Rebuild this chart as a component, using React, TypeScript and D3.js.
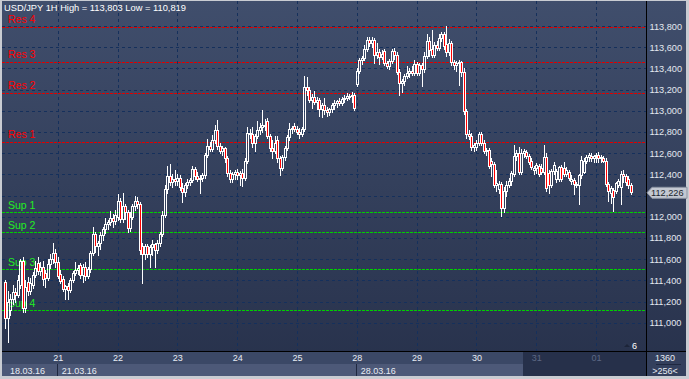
import React, { useEffect } from "react";
import * as d3 from "d3";

// ---------- DATA ----------
const opens = [
  111.38,111.04,111.12,111.22,111.29,111.26,111.36,111.58,111.14,111.38,111.30,111.36,111.45,111.56,111.49,111.53,111.47,111.42,111.55,111.60,111.66,
  111.57,111.46,111.41,111.32,111.35,111.31,111.40,111.47,111.50,111.54,111.45,111.53,111.44,111.51,111.66,111.84,111.72,111.75,111.83,111.88,111.93,111.95,111.99,111.96,
  112.00,112.15,111.98,112.10,112.04,111.89,112.00,112.10,112.15,112.12,111.72,111.65,111.72,111.65,111.71,111.74,111.69,111.75,111.84,112.02,112.26,112.38,112.33,112.36,
  112.34,112.37,112.27,112.23,112.30,112.33,112.35,112.45,112.38,112.36,112.37,112.39,112.58,112.67,112.64,112.72,112.82,112.67,112.62,112.65,112.55,112.41,112.36,112.40,
  112.42,112.39,112.41,112.37,112.53,112.79,112.78,112.70,112.76,112.82,112.85,112.87,112.90,112.76,112.65,112.62,112.72,112.55,112.46,112.56,112.65,112.75,112.83,112.86,
  112.83,112.80,112.78,112.83,113.22,113.20,113.10,113.13,113.08,113.10,113.02,113.05,113.01,112.99,113.02,113.05,113.07,113.09,113.07,113.11,113.12,113.14,113.14,113.15,
  113.25,113.38,113.48,113.50,113.58,113.67,113.64,113.67,113.53,113.55,113.51,113.56,113.45,113.42,113.47,113.56,113.53,113.37,113.26,113.28,113.33,113.36,113.38,113.36,
  113.44,113.36,113.43,113.39,113.52,113.66,113.58,113.53,113.62,113.59,113.69,113.72,113.63,113.55,113.64,113.46,113.43,113.45,113.46,113.37,113.00,112.78,112.76,112.66,
  112.66,112.70,112.78,112.70,112.62,112.63,112.53,112.50,112.30,112.26,112.31,112.08,112.24,112.30,112.34,112.40,112.57,112.60,112.42,112.60,112.61,112.57,112.53,112.44,
  112.46,112.48,112.46,112.42,112.56,112.41,112.30,112.43,112.36,112.36,112.47,112.46,112.40,112.42,112.34,112.35,112.31,112.30,112.39,112.42,112.53,112.56,112.57,112.55,
  112.57,112.58,112.55,112.55,112.53,112.31,112.22,112.25,112.24,112.30,112.28,112.40,112.38,112.36,112.30
];
const highs = [
  111.40,111.30,111.27,111.36,111.33,111.45,111.60,111.62,111.40,111.43,111.42,111.48,111.58,111.62,111.57,111.58,111.50,111.60,111.65,111.75,111.70,
  111.62,111.50,111.44,111.36,111.37,111.42,111.49,111.57,111.54,111.56,111.55,111.57,111.53,111.68,111.90,111.86,111.77,111.86,111.90,111.99,111.97,112.05,112.03,112.06,
  112.21,112.18,112.22,112.12,112.06,112.04,112.12,112.20,112.19,112.14,111.75,111.74,111.74,111.73,111.78,111.75,111.78,111.86,112.05,112.30,112.48,112.50,112.40,112.44,
  112.40,112.39,112.32,112.32,112.36,112.37,112.48,112.47,112.42,112.39,112.41,112.60,112.73,112.71,112.77,112.87,112.91,112.70,112.67,112.66,112.57,112.44,112.42,112.44,
  112.45,112.43,112.45,112.55,112.85,112.83,112.85,112.78,112.90,112.88,113.01,112.92,112.93,112.78,112.72,112.76,112.76,112.57,112.58,112.67,112.77,112.88,112.86,112.88,
  112.86,112.84,112.85,113.33,113.32,113.22,113.16,113.19,113.13,113.12,113.07,113.12,113.04,113.03,113.07,113.10,113.10,113.12,113.13,113.15,113.17,113.16,113.18,113.17,
  113.40,113.50,113.52,113.62,113.70,113.70,113.70,113.69,113.64,113.58,113.57,113.58,113.47,113.49,113.58,113.59,113.55,113.39,113.30,113.35,113.42,113.40,113.42,113.48,
  113.46,113.45,113.45,113.55,113.72,113.70,113.76,113.65,113.66,113.72,113.74,113.74,113.803,113.68,113.66,113.48,113.47,113.48,113.47,113.40,113.02,112.82,112.79,112.70,
  112.72,112.80,112.80,112.72,112.65,112.65,112.55,112.52,112.44,112.34,112.33,112.28,112.34,112.37,112.43,112.68,112.63,112.66,112.64,112.64,112.63,112.59,112.55,112.48,
  112.51,112.50,112.50,112.68,112.60,112.44,112.45,112.52,112.45,112.48,112.49,112.52,112.47,112.44,112.39,112.37,112.33,112.40,112.57,112.55,112.58,112.60,112.60,112.58,
  112.60,112.61,112.58,112.57,112.55,112.33,112.29,112.27,112.33,112.36,112.43,112.44,112.40,112.38,112.32
];
const lows = [
  110.95,110.82,111.07,111.18,111.20,111.24,111.33,111.10,111.10,111.26,111.27,111.33,111.43,111.46,111.45,111.36,111.34,111.40,111.52,111.56,111.53,
  111.42,111.37,111.30,111.22,111.22,111.29,111.38,111.45,111.46,111.42,111.38,111.40,111.42,111.48,111.64,111.67,111.64,111.70,111.78,111.85,111.88,111.92,111.90,111.93,
  111.97,111.95,111.95,111.98,111.86,111.87,111.98,112.06,112.08,111.65,111.37,111.60,111.62,111.53,111.64,111.53,111.66,111.72,111.82,112.00,112.22,112.30,112.28,112.30,
  112.30,112.25,112.14,112.20,112.27,112.30,112.33,112.36,112.34,112.22,112.34,112.37,112.56,112.62,112.62,112.70,112.64,112.60,112.58,112.52,112.38,112.33,112.33,112.36,
  112.36,112.30,112.29,112.35,112.51,112.74,112.66,112.62,112.74,112.78,112.80,112.82,112.74,112.62,112.55,112.60,112.52,112.39,112.44,112.54,112.63,112.72,112.79,112.81,
  112.78,112.74,112.76,112.81,113.15,113.08,113.03,113.06,113.02,112.95,112.94,112.97,112.95,112.96,112.99,113.02,113.04,113.05,113.05,113.08,113.10,113.11,113.08,113.01,
  113.23,113.36,113.44,113.48,113.56,113.61,113.60,113.45,113.50,113.44,113.49,113.43,113.40,113.39,113.45,113.49,113.35,113.15,113.18,113.24,113.31,113.32,113.34,113.34,
  113.34,113.34,113.23,113.37,113.50,113.52,113.51,113.51,113.57,113.57,113.66,113.58,113.52,113.53,113.43,113.39,113.38,113.24,113.33,112.97,112.74,112.73,112.63,112.62,
  112.63,112.68,112.68,112.60,112.58,112.46,112.38,112.28,112.24,112.22,112.01,112.04,112.20,112.28,112.30,112.38,112.54,112.40,112.40,112.56,112.55,112.50,112.45,112.40,
  112.41,112.38,112.40,112.40,112.24,112.22,112.28,112.40,112.33,112.34,112.34,112.38,112.38,112.35,112.31,112.21,112.28,112.12,112.37,112.41,112.51,112.53,112.53,112.52,
  112.52,112.52,112.52,112.52,112.29,112.15,112.13,112.05,112.22,112.28,112.12,112.33,112.30,112.27,112.21
];
const closes = [
  111.04,111.20,111.22,111.29,111.26,111.40,111.58,111.14,111.34,111.30,111.37,111.45,111.52,111.49,111.53,111.41,111.42,111.55,111.60,111.66,111.57,
  111.44,111.39,111.32,111.35,111.31,111.40,111.47,111.50,111.52,111.45,111.53,111.44,111.51,111.66,111.84,111.72,111.75,111.83,111.88,111.93,111.95,111.99,111.96,112.02,
  112.15,111.98,112.10,112.04,111.89,112.00,112.10,112.15,112.12,111.69,111.65,111.72,111.65,111.71,111.74,111.69,111.75,111.84,112.02,112.26,112.38,112.33,112.36,112.34,
  112.37,112.28,112.23,112.30,112.33,112.35,112.45,112.38,112.36,112.37,112.39,112.58,112.67,112.64,112.72,112.82,112.67,112.62,112.65,112.55,112.41,112.36,112.40,112.42,
  112.39,112.41,112.37,112.53,112.79,112.78,112.70,112.76,112.82,112.85,112.87,112.86,112.76,112.65,112.62,112.70,112.55,112.46,112.56,112.65,112.75,112.83,112.84,112.83,
  112.80,112.78,112.83,113.22,113.20,113.10,113.13,113.08,113.10,113.02,113.05,113.01,112.99,113.02,113.05,113.07,113.09,113.07,113.11,113.12,113.14,113.13,113.15,113.03,
  113.38,113.48,113.50,113.58,113.67,113.64,113.67,113.53,113.55,113.51,113.54,113.45,113.42,113.47,113.56,113.53,113.37,113.26,113.28,113.33,113.36,113.38,113.36,113.44,
  113.36,113.43,113.39,113.52,113.66,113.57,113.53,113.62,113.59,113.69,113.72,113.61,113.55,113.64,113.46,113.43,113.45,113.46,113.37,113.00,112.78,112.76,112.66,112.68,
  112.70,112.78,112.70,112.62,112.63,112.48,112.50,112.30,112.32,112.31,112.08,112.24,112.30,112.34,112.41,112.57,112.60,112.42,112.60,112.62,112.57,112.52,112.47,112.46,
  112.49,112.40,112.42,112.56,112.27,112.30,112.43,112.49,112.43,112.47,112.36,112.40,112.44,112.37,112.36,112.31,112.30,112.39,112.54,112.53,112.56,112.58,112.55,112.57,
  112.58,112.55,112.56,112.53,112.31,112.24,112.27,112.19,112.32,112.34,112.40,112.38,112.33,112.30,112.23
];

const priceTicks = [111.0, 111.2, 111.4, 111.6, 111.8, 112.0, 112.2, 112.4, 112.6, 112.8, 113.0, 113.2, 113.4, 113.6, 113.8];
const dayLabels = ["21", "22", "23", "24", "25", "28", "29", "30", "31", "01"];
const dayStartIndex = [21, 45, 69, 93, 117, 141, 165, 189, 213, 237];
const weekLabels = ["18.03.16", "21.03.16", "28.03.16"];
const weekStartIndex = [0, 21, 141];
const resNames = ["Res 1", "Res 2", "Res 3", "Res 4"];
const resLevels = [112.702, 113.163, 113.457, 113.788];
const supNames = ["Sup 1", "Sup 2", "Sup 3", "Sup 4"];
const supLevels = [112.047, 111.853, 111.504, 111.12];
const titleText = "USD/JPY 1H  High = 113,803 Low = 110,819";
const lastPrice = 112.226;
const barCountText = "1360";
const zoomText = ">256<";
const scrollText = "6";

// ---------- LAYOUT ----------
const W = 689;
const H = 379;
const plotLeft = 2;
const plotRight = 646;
const plotTop = 1;
const plotBottom = 351;
const axisRowMid = 364;
const axisBottom = 376;
const FONT = "'Liberation Sans', Arial, sans-serif";

const fmtPrice = (v: number) => d3.format(".3f")(v).replace(".", ",");

export default function App() {
  useEffect(() => {
    document.body.style.margin = "0";
    document.body.style.background = "#c9ccd2";
  }, []);

  const n = closes.length;
  const x = d3.scaleLinear().domain([0, n - 1]).range([5.4, 5.4 + (n - 1) * 2.492]);
  const y = d3.scaleLinear().domain([111.0, 113.8]).range([322.7, 26]);

  const px = (v: number) => Math.round(v) + 0.5;

  const candles = d3.range(n).map((i) => {
    const o = opens[i], c = closes[i], h = highs[i], l = lows[i];
    const cx = Math.round(x(i));
    const yTop = Math.round(y(Math.max(o, c)));
    const yBot = Math.round(y(Math.min(o, c)));
    const yH = Math.round(y(h));
    const yL = Math.round(y(l));
    const bear = c < o;
    return (
      <g key={i}>
        {yH < yTop && <line x1={cx + 0.5} x2={cx + 0.5} y1={yH} y2={yTop} stroke="#fff" strokeWidth={1} />}
        {yL > yBot && <line x1={cx + 0.5} x2={cx + 0.5} y1={yBot} y2={yL + 1} stroke="#fff" strokeWidth={1} />}
        <rect x={cx - 0.5} y={yTop + 0.5} width={2} height={Math.max(1, yBot - yTop)}
          fill={bear ? "#ff0000" : "none"} stroke="#fff" strokeWidth={1} />
      </g>
    );
  });

  const arrowY = y(lastPrice);
  // tick labels hidden behind the last-price marker are not drawn (as in the reference)
  const visibleTicks = priceTicks.filter((t) => Math.abs(y(t) - arrowY) > 9);

  return (
    <div style={{ position: "absolute", left: 0, top: 0, width: W, height: H }}>
      <svg width={W} height={H} style={{ display: "block" }} fontFamily={FONT}>
        <defs>
          <linearGradient id="bgGrad" x1="0" y1="0" x2="0" y2="1">
            <stop offset="0%" stopColor="#404e6c" />
            <stop offset="100%" stopColor="#27314b" />
          </linearGradient>
        </defs>
        {/* frame */}
        <rect x={0} y={0} width={W} height={H} fill="#c9ccd2" />
        <rect x={plotLeft} y={plotTop} width={686 - plotLeft} height={axisBottom - plotTop} fill="url(#bgGrad)" />

        {/* bottom axis rows */}
        <rect x={plotLeft} y={plotBottom} width={plotRight - plotLeft} height={axisRowMid - plotBottom} fill="#3b4866" />
        <rect x={plotLeft} y={axisRowMid} width={plotRight - plotLeft} height={axisBottom - axisRowMid} fill="#4d5978" />
        <rect x={523} y={plotBottom} width={plotRight - 523} height={axisBottom - plotBottom} fill="#26304a" />
        <rect x={646} y={plotBottom} width={40} height={axisBottom - plotBottom} fill="#34405d" />
        {weekStartIndex.slice(1).map((wi, k) => (
          <line key={k} x1={px(x(wi)) - 1} x2={px(x(wi)) - 1} y1={axisRowMid} y2={axisBottom} stroke="#1f2840" />
        ))}

        {/* grid */}
        {priceTicks.map((t) => (
          <line key={t} x1={plotLeft} x2={plotRight} y1={px(y(t))} y2={px(y(t))} stroke="#15305c" strokeDasharray="3,3" />
        ))}
        {dayStartIndex.map((di, k) => (
          <line key={k} x1={px(x(di))} x2={px(x(di))} y1={plotTop} y2={plotBottom} stroke="#15305c" strokeDasharray="3,3" />
        ))}

        {/* resistance / support lines */}
        {resLevels.map((v, k) => (
          <g key={"r" + k}>
            <line x1={plotLeft} x2={plotRight} y1={px(y(v))} y2={px(y(v))} stroke="#e00000" strokeDasharray="3,1" />
            <text x={8} y={Math.round(y(v)) - 4} fill="#ff0000" fontSize={10.5}>{resNames[k]}</text>
          </g>
        ))}
        {supLevels.map((v, k) => (
          <g key={"s" + k}>
            <line x1={plotLeft} x2={plotRight} y1={px(y(v))} y2={px(y(v))} stroke="#00d000" strokeDasharray="3,1" />
            <text x={8} y={Math.round(y(v)) - 3} fill="#22ee22" fontSize={10.5}>{supNames[k]}</text>
          </g>
        ))}

        {/* candles */}
        <g shapeRendering="crispEdges">{candles}</g>

        {/* title */}
        <text x={4} y={11} fill="#ffffff" fontSize={9.3}>{titleText}</text>

        {/* axis borders */}
        <line x1={plotRight + 0.5} x2={plotRight + 0.5} y1={plotTop} y2={axisBottom} stroke="#000" />
        <line x1={plotLeft} x2={686} y1={plotBottom + 0.5} y2={plotBottom + 0.5} stroke="#000" />

        {/* price labels */}
        {visibleTicks.map((t) => (
          <text key={t} x={649.5} y={y(t) + 3.5} fill="#e4e8f0" fontSize={9.2}>{fmtPrice(t)}</text>
        ))}

        {/* last price marker */}
        <path d={`M${647},${arrowY} L${652},${arrowY - 5.5} L${687},${arrowY - 5.5} L${687},${arrowY + 5.5} L${652},${arrowY + 5.5} Z`}
          fill="#c3c8d2" stroke="#8d94a4" />
        <text x={651} y={arrowY + 3.5} fill="#1a1f2c" fontSize={9.2}>{fmtPrice(lastPrice)}</text>

        {/* day labels */}
        {dayLabels.map((d, k) => (
          <text key={d + k} x={x(dayStartIndex[k]) + 0.5} y={361} textAnchor="middle"
            fill={dayStartIndex[k] >= 213 ? "#5d6884" : "#e8ecf4"} fontSize={9}>{d}</text>
        ))}
        {weekLabels.map((w, k) => (
          <text key={w} x={k === 0 ? 10 : x(weekStartIndex[k]) + 4} y={374} fill="#e8ecf4" fontSize={9}>{w}</text>
        ))}

        {/* scroll / count info */}
        <path d="M624,347 L627,344 L630,347 Z" fill="#1c2438" />
        <text x={632} y={349} fill="#ffffff" fontSize={9}>{scrollText}</text>
        <text x={665} y={361} textAnchor="middle" fill="#e8ecf4" fontSize={9}>{barCountText}</text>
        <line x1={656} x2={681} y1={364.5} y2={364.5} stroke="#1f2840" />
        <text x={665} y={374} textAnchor="middle" fill="#e8ecf4" fontSize={9}>{zoomText}</text>
      </svg>
    </div>
  );
}
